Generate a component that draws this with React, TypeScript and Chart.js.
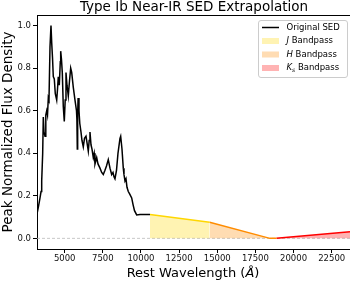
import React, { useEffect, useRef } from "react";
import { Chart, registerables } from "chart.js";
Chart.register(...registerables);

const sedWavelength = [3185, 3283, 3382, 3450, 3493, 3558, 3598, 3644, 3710, 3762, 3821, 3873, 3926, 3971, 4037, 4102, 4148, 4201, 4253, 4318, 4384, 4476, 4528, 4580, 4646, 4712, 4738, 4790, 4843, 4908, 4974, 5033, 5085, 5151, 5236, 5315, 5393, 5459, 5564, 5675, 5773, 5800, 5826, 5850, 5879, 5937, 5990, 6068, 6134, 6219, 6298, 6396, 6462, 6547, 6606, 6658, 6724, 6790, 6875, 6934, 6986, 7097, 7182, 7313, 7425, 7530, 7640, 7739, 7857, 7969, 8080, 8165, 8231, 8296, 8395, 8493, 8624, 8670, 8755, 8840, 8886, 8952, 9017, 9083, 9168, 9247, 9391, 9477, 9575, 9718, 9935, 10590];
const sedFlux = [0.115, 0.15, 0.19, 0.22, 0.27, 0.40, 0.57, 0.50, 0.48, 0.58, 0.60, 0.58, 0.66, 0.65, 0.90, 1.00, 0.92, 0.85, 0.76, 0.75, 0.68, 0.65, 0.70, 0.76, 0.72, 0.83, 0.88, 0.84, 0.78, 0.62, 0.55, 0.65, 0.78, 0.72, 0.67, 0.74, 0.80, 0.78, 0.71, 0.65, 0.60, 0.56, 0.42, 0.58, 0.66, 0.60, 0.54, 0.50, 0.46, 0.43, 0.47, 0.48, 0.45, 0.41, 0.46, 0.50, 0.44, 0.42, 0.38, 0.40, 0.35, 0.38, 0.35, 0.33, 0.31, 0.30, 0.32, 0.34, 0.37, 0.33, 0.30, 0.31, 0.29, 0.28, 0.32, 0.40, 0.47, 0.48, 0.42, 0.33, 0.30, 0.27, 0.28, 0.24, 0.22, 0.21, 0.19, 0.16, 0.13, 0.11, 0.112, 0.112];

const jWavelength = [10590, 14500];
const jFlux = [0.112, 0.076];
const hWavelength = [14500, 18450, 18880];
const hFlux = [0.076, 0.0, 0.0];
const kWavelength = [18880, 23700];
const kFlux = [0.0, 0.031];
const zeroWavelength = [3185, 23700];
const zeroFlux = [0, 0];

const xTickValues = [5000, 7500, 10000, 12500, 15000, 17500, 20000, 22500];
const yTickValues = [0, 0.2, 0.4, 0.6, 0.8, 1.0];

const titleText = "Type Ib Near-IR SED Extrapolation";
const yLabelText = "Peak Normalized Flux Density";
const legendNames = ["Original SED", "J", "H", "K"];

const FONT = '"DejaVu Sans", sans-serif';

const pts = (xs: number[], ys: number[]) => xs.map((x, i) => ({ x, y: ys[i] }));

const overlay = {
  id: "overlay",
  afterDraw(chart: any) {
    const ctx = chart.ctx as CanvasRenderingContext2D;
    const ca = chart.chartArea;
    ctx.save();
    // top spine
    ctx.strokeStyle = "#000";
    ctx.lineWidth = 1;
    ctx.beginPath();
    ctx.moveTo(ca.left, ca.top + 0.5);
    ctx.lineTo(ca.right, ca.top + 0.5);
    ctx.stroke();

    ctx.fillStyle = "#000";
    // title
    ctx.font = `13.5px ${FONT}`;
    ctx.textAlign = "center";
    ctx.textBaseline = "middle";
    ctx.fillText(titleText, 194, 7);

    // y label
    ctx.save();
    ctx.translate(8.5, 132);
    ctx.rotate(-Math.PI / 2);
    ctx.font = `13.5px ${FONT}`;
    ctx.fillText(yLabelText, 0, 0);
    ctx.restore();

    // x label with italic Å
    ctx.font = `13px ${FONT}`;
    const p1 = "Rest Wavelength (";
    const p3 = ")";
    const w1 = ctx.measureText(p1).width;
    const w3 = ctx.measureText(p3).width;
    ctx.font = `italic 13px ${FONT}`;
    const w2 = ctx.measureText("Å").width;
    const total = w1 + w2 + w3;
    let x = 193 - total / 2;
    const y = 274;
    ctx.textAlign = "left";
    ctx.font = `13px ${FONT}`;
    ctx.fillText(p1, x, y);
    x += w1;
    ctx.font = `italic 13px ${FONT}`;
    ctx.fillText("Å", x, y);
    x += w2;
    ctx.font = `13px ${FONT}`;
    ctx.fillText(p3, x, y);

    // legend
    const bx = 258.5, by = 20.5, bw = 89, bh = 57;
    ctx.beginPath();
    const r = 2.5;
    ctx.moveTo(bx + r, by);
    ctx.lineTo(bx + bw - r, by);
    ctx.quadraticCurveTo(bx + bw, by, bx + bw, by + r);
    ctx.lineTo(bx + bw, by + bh - r);
    ctx.quadraticCurveTo(bx + bw, by + bh, bx + bw - r, by + bh);
    ctx.lineTo(bx + r, by + bh);
    ctx.quadraticCurveTo(bx, by + bh, bx, by + bh - r);
    ctx.lineTo(bx, by + r);
    ctx.quadraticCurveTo(bx, by, bx + r, by);
    ctx.closePath();
    ctx.fillStyle = "rgba(255,255,255,0.8)";
    ctx.fill();
    ctx.strokeStyle = "#cccccc";
    ctx.lineWidth = 1;
    ctx.stroke();

    const rows = [27.5, 41, 54.5, 68];
    const hx0 = 262, hx1 = 279, tx = 286.5;
    // line handle
    ctx.strokeStyle = "#000";
    ctx.lineWidth = 1.5;
    ctx.beginPath();
    ctx.moveTo(hx0, rows[0]);
    ctx.lineTo(hx1, rows[0]);
    ctx.stroke();
    const patchColors = ["#FFF3B3", "#FFDCB3", "#FFB3B3"];
    for (let i = 0; i < 3; i++) {
      ctx.fillStyle = patchColors[i];
      ctx.fillRect(hx0, rows[i + 1] - 3, hx1 - hx0, 6);
    }
    ctx.fillStyle = "#000";
    ctx.textBaseline = "middle";
    ctx.textAlign = "left";
    ctx.font = `8.5px ${FONT}`;
    ctx.fillText(legendNames[0], tx, rows[0]);
    for (let i = 1; i < 4; i++) {
      let cx = tx;
      ctx.font = `italic 8.5px ${FONT}`;
      ctx.fillText(legendNames[i], cx, rows[i]);
      cx += ctx.measureText(legendNames[i]).width;
      if (i === 3) {
        ctx.font = `italic 6px ${FONT}`;
        ctx.fillText("s", cx, rows[i] + 2);
        cx += ctx.measureText("s").width;
      }
      ctx.font = `8.5px ${FONT}`;
      ctx.fillText(" Bandpass", cx, rows[i]);
    }
    ctx.restore();
  },
};

export default function App() {
  const ref = useRef<HTMLCanvasElement | null>(null);
  useEffect(() => {
    if (!ref.current) return;
    const chart = new Chart(ref.current, {
      type: "line",
      data: {
        datasets: [
          { data: pts(sedWavelength, sedFlux), borderColor: "#000", borderWidth: 1.5, pointRadius: 0, fill: false, tension: 0 },
          { data: pts(jWavelength, jFlux), borderColor: "#FFD700", borderWidth: 1.5, pointRadius: 0, fill: "origin", backgroundColor: "rgba(255,215,0,0.3)" },
          { data: pts(hWavelength, hFlux), borderColor: "#FF8C00", borderWidth: 1.5, pointRadius: 0, fill: "origin", backgroundColor: "rgba(255,140,0,0.3)" },
          { data: pts(kWavelength, kFlux), borderColor: "#FF0000", borderWidth: 1.5, pointRadius: 0, fill: "origin", backgroundColor: "rgba(255,0,0,0.3)" },
          { data: pts(zeroWavelength, zeroFlux), borderColor: "#bbbbbb", borderWidth: 0.8, borderDash: [3, 2], pointRadius: 0, fill: false },
        ] as any,
      },
      options: {
        animation: false,
        responsive: false,
        devicePixelRatio: 1,
        layout: { padding: { top: 15, right: 0, left: 0, bottom: 0 } },
        plugins: { legend: { display: false }, tooltip: { enabled: false }, title: { display: false } },
        scales: {
          x: {
            type: "linear",
            min: 3185,
            max: 23700,
            afterFit: (s: any) => { s.height = 33; },
            afterBuildTicks: (s: any) => { s.ticks = xTickValues.map((v) => ({ value: v })); },
            ticks: { font: { family: "DejaVu Sans", size: 8.5 }, color: "#111", padding: 1, maxRotation: 0, autoSkip: false, callback: (v: any) => String(v) },
            grid: { drawOnChartArea: false, drawTicks: true, tickLength: 4, color: "#000", tickColor: "#000" },
            border: { display: true, color: "#000", width: 1 },
          },
          y: {
            type: "linear",
            min: -0.05,
            max: 1.05,
            afterFit: (s: any) => { s.width = 37; },
            afterBuildTicks: (s: any) => { s.ticks = yTickValues.map((v) => ({ value: v })); },
            ticks: { font: { family: "DejaVu Sans", size: 8.5 }, color: "#111", padding: 2, autoSkip: false, callback: (v: any) => Number(v).toFixed(1) },
            grid: { drawOnChartArea: false, drawTicks: true, tickLength: 4, color: "#000", tickColor: "#000" },
            border: { display: true, color: "#000", width: 1 },
          },
        },
      } as any,
      plugins: [overlay],
    });
    return () => chart.destroy();
  }, []);
  return (
    <div style={{ position: "absolute", left: 0, top: 0, width: 350, height: 282, background: "#fff" }}>
      <canvas ref={ref} width={350} height={282} style={{ display: "block" }} />
    </div>
  );
}
